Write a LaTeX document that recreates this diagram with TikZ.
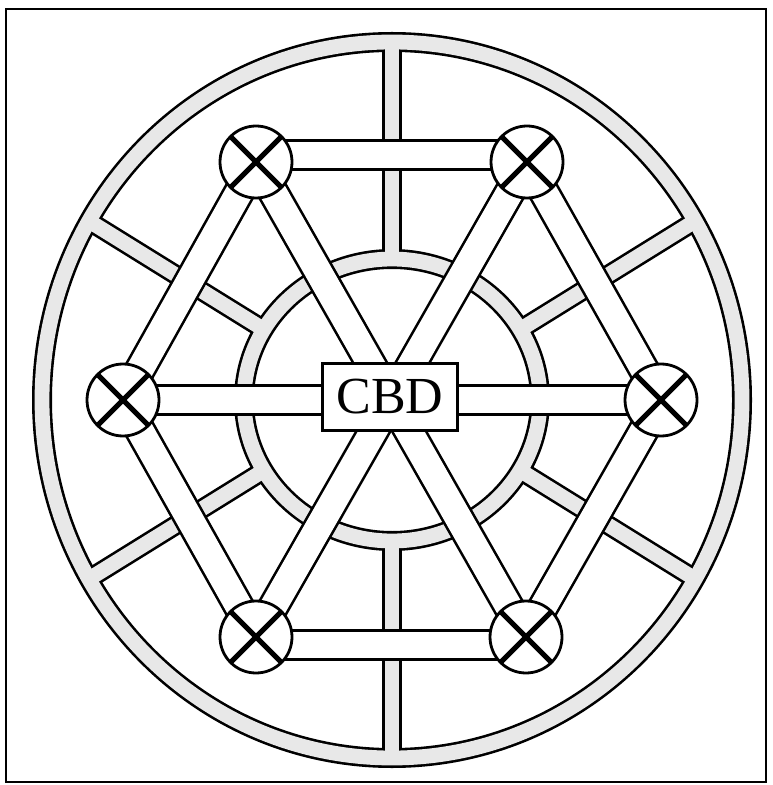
\documentclass[tikz,border=0pt]{standalone}
\usepackage{tikz}
\usepackage{fontspec}
\setmainfont{Liberation Serif}
\usetikzlibrary{backgrounds}
\begin{document}
\begin{tikzpicture}[x=0.5pt,y=-0.5pt,
  junction/.style={circle, draw, fill=white, line width=1.4pt,
    minimum size=36pt, inner sep=0pt,
    path picture={\draw[line width=2.6pt]
      (path picture bounding box.north west) -- (path picture bounding box.south east)
      (path picture bounding box.north east) -- (path picture bounding box.south west);}},
  road/.style={line width=1.3pt, double=white, double distance=13.4pt},
  ringedge/.style={line width=10pt, black},
  ringfill/.style={line width=7.4pt, black!9}]
\useasboundingbox (0,0) rectangle (772,785);
\node[junction] (tl) at (256,162) {};
\node[junction] (tr) at (527,162) {};
\node[junction] (l) at (123,400) {};
\node[junction] (r) at (661,400) {};
\node[junction] (bl) at (256,637) {};
\node[junction] (br) at (526,637) {};
\node[draw, fill=white, line width=1.4pt, minimum width=67.5pt,
      minimum height=33.5pt, inner sep=0pt,
      font=\fontsize{26}{26}\selectfont] (cbd) at (390,397) {CBD};
\begin{scope}[on background layer]
\draw[line width=0.8pt] (6,9) rectangle (766,782);
\foreach \s in {ringedge,ringfill} {
  \draw[\s] (392,400) ellipse [x radius=350, y radius=358];
  \draw[\s] (392,400) ellipse [x radius=148, y radius=141];
  \foreach \a in {30,90,...,330}
    \draw[\s] ({392+148*cos(\a)},{400-141*sin(\a)})
      -- ({392+350*cos(\a)},{400-358*sin(\a)});
}
\draw[road] ([yshift=3.5pt]tl.center) -- ([yshift=3.5pt]tr.center);
\draw[road] ([yshift=-4pt]bl.center) -- ([yshift=-4pt]br.center);
\draw[road] (tl.center) -- (l.center);
\draw[road] (l.center) -- (bl.center);
\draw[road] (tr.center) -- (r.center);
\draw[road] (r.center) -- (br.center);
\draw[road] (tl.center) -- (br.center);
\draw[road] (tr.center) -- (bl.center);
\draw[road] (l.center) -- (r.center);
\end{scope}
\end{tikzpicture}
\end{document}
